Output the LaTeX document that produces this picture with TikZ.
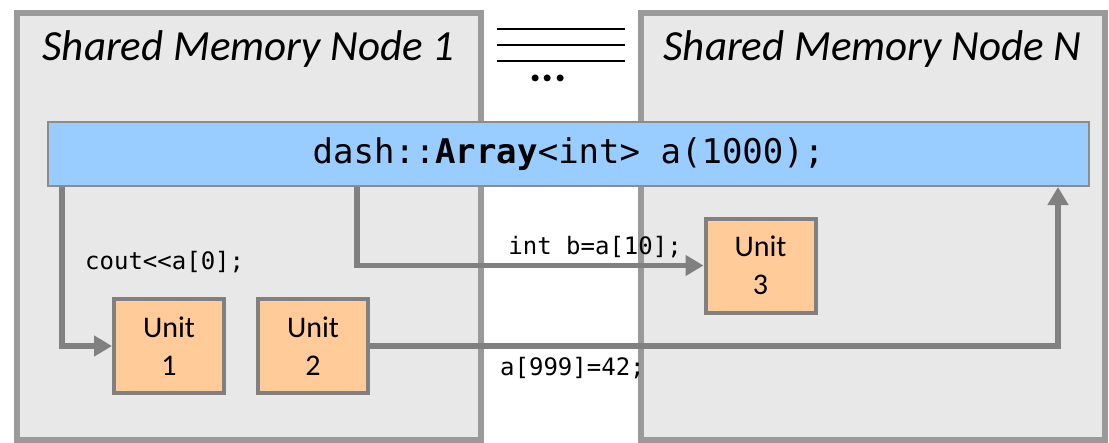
\documentclass[tikz,border=0pt]{standalone}
\usepackage{fontspec}
\setmainfont{Carlito}
\setmonofont{DejaVu Sans Mono}
\usetikzlibrary{arrows.meta,positioning}
\definecolor{boxgray}{HTML}{E8E8E8}
\definecolor{edgegray}{HTML}{9A9A9A}
\definecolor{bargray}{HTML}{8C8C8C}
\definecolor{arrgray}{HTML}{808080}
\definecolor{barblue}{HTML}{99CCFF}
\definecolor{unitorange}{HTML}{FFCC99}
\tikzset{
  smnode/.style={rectangle, draw=edgegray, line width=6pt, fill=boxgray,
                 minimum width=464pt, minimum height=427pt, inner sep=0pt},
  ttl/.style={font=\fontsize{43}{48}\selectfont\itshape, anchor=base, inner sep=0pt},
  arraybar/.style={rectangle, draw=bargray, line width=2pt, fill=barblue,
                   minimum width=1041pt, minimum height=64pt, inner sep=0pt,
                   font=\fontsize{34}{40}\ttfamily},
  unit/.style={rectangle, draw=arrgray, line width=4pt, fill=unitorange,
               minimum width=110pt, minimum height=94pt, align=center, inner sep=0pt,
               font=\fontsize{30}{38}\selectfont},
  ar/.style={-{Triangle[length=18pt,width=20pt]}, line width=5.5pt, draw=arrgray},
  code/.style={font=\fontsize{24}{28}\ttfamily, inner sep=0pt},
}

\begin{document}
\begin{tikzpicture}[x=1pt, y=-1pt]
\useasboundingbox (0,0) rectangle (1109,442);

% ============================ memory nodes ==============================
\node[smnode] (left)  at (248.5,226.5) {};
\node[smnode] (right) at (873,226.5) {};
\node[ttl] (tL) at (248.5,60) {Shared Memory Node 1};
\node[ttl] (tR) at (872.5,60) {Shared Memory Node N};

% ============================ more nodes ================================
\foreach \yy in {29,45,61}
  \draw[line width=1.6pt] (497,\yy) -- (625,\yy);
\node[font=\fontsize{46}{46}\selectfont\bfseries, anchor=base, inner sep=0pt] (more)
  at (548,81) {...};

% ============================ global array ==============================
\node[arraybar] (bar) at (568.5,154)
  {dash::\textbf{Array}<int> a(1000);};

% ============================ units =====================================
\node[unit] (u1) at (169,346) {Unit\\1};
\node[unit] (u2) at (313,346) {Unit\\2};
\node[unit] (u3) at (760.5,265.5) {Unit\\3};

% ============================ accesses ==================================
\draw[ar] ([xshift=15pt]bar.south west) |- (u1.west);
\draw[ar] ([xshift=310pt]bar.south west) |- (u3.west);
\draw[ar] (u2.east) -| ([xshift=-32pt]bar.south east);

\node[code, anchor=west] (rd0)   at (85,262)  {cout<<a[0];};
\node[code, anchor=east] (rd10)  at (682,247) {int b=a[10];};
\node[code, anchor=west] (wr999) at (500,368) {a[999]=42;};

\end{tikzpicture}
\end{document}
